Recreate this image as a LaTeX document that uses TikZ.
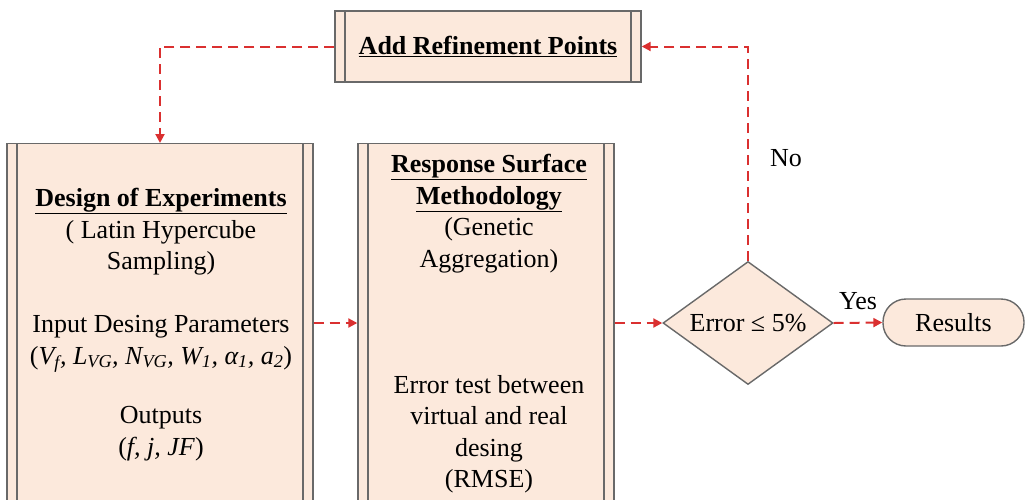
\documentclass[tikz,border=0pt]{standalone}
\usepackage{fontspec}
\setmainfont{Liberation Serif}
\usetikzlibrary{shapes.geometric,arrows.meta,positioning}

\definecolor{boxfill}{RGB}{252,233,220}
\definecolor{boxedge}{RGB}{105,105,105}
\definecolor{flowred}{RGB}{218,48,48}

\tikzset{
  % predefined process box: rectangle with double side lines
  procbox/.style={rectangle, draw=boxedge, line width=1.4pt, fill=boxfill, inner sep=0pt,
    path picture={
      \draw[boxedge, line width=1.4pt]
        ([xshift=10pt]path picture bounding box.north west) -- ([xshift=10pt]path picture bounding box.south west)
        ([xshift=-10pt]path picture bounding box.north east) -- ([xshift=-10pt]path picture bounding box.south east);
    }},
  decision/.style={diamond, aspect=1.38, draw=boxedge, line width=1.4pt, fill=boxfill, inner sep=0pt},
  terminal/.style={rectangle, rounded corners=23pt, draw=boxedge, line width=1.4pt, fill=boxfill, inner sep=0pt},
  flow/.style={draw=flowred, line width=2pt, dash pattern=on 10pt off 6pt,
    -{Triangle[length=9pt,width=9pt]}},
  boxtext/.style={anchor=north, align=center, inner sep=0pt},
}

\begin{document}
\begin{tikzpicture}[x=1pt, y=-1pt, font=\fontsize{26}{31.5}\selectfont]
    \useasboundingbox (0,0) rectangle (1025,499);
    \clip (0,0) rectangle (1025,499);

    % blocks
    \node[procbox, minimum width=306pt, minimum height=71pt] (refine) at (488,46.5)
        {\textbf{\underline{Add Refinement Points}}};
    \node[procbox, minimum width=306pt, minimum height=380pt, anchor=north] (doe) at (160,143) {};
    \node[procbox, minimum width=256pt, minimum height=380pt, anchor=north] (rsm) at (486,143) {};
    \node[decision, minimum width=170pt, minimum height=123pt] (check) at (748,323) {Error ≤ 5\%};
    \node[terminal, minimum width=141pt, minimum height=47pt] (results) at (953.5,322.5) {Results};

    % block texts
    \node[boxtext] (doetext) at (161,188) {\textbf{\underline{Design of Experiments}}\\
        ( Latin Hypercube\\ Sampling)\\[31.5pt]
        Input Desing Parameters\\
        (\textit{V\textsubscript{f}, L\textsubscript{VG}, N\textsubscript{VG}, W\textsubscript{1}, α\textsubscript{1}, a\textsubscript{2}})\\[28pt]
        Outputs\\ (\textit{f, j, JF})};
    \node[boxtext] (rsmtext) at (489,154) {\textbf{\underline{Response Surface}}\\
        \textbf{\underline{Methodology}}\\ (Genetic\\ Aggregation)\\[94.5pt]
        Error test between\\ virtual and real\\ desing\\ (RMSE)};

    % connectors
    \draw[flow] (doe.east |- check.west) -- (rsm.west |- check.west);
    \draw[flow] (rsm.east |- check.west) -- (check.west);
    \draw[flow] (check.east) -- node[above=12pt, inner sep=0pt] {Yes} (results.west);
    \draw[flow] (check.north) |- node[pos=0.24, right=21pt, inner sep=0pt] {No} (refine.east);
    \draw[flow] (refine.west) -| (doe.north);
\end{tikzpicture}
\end{document}
